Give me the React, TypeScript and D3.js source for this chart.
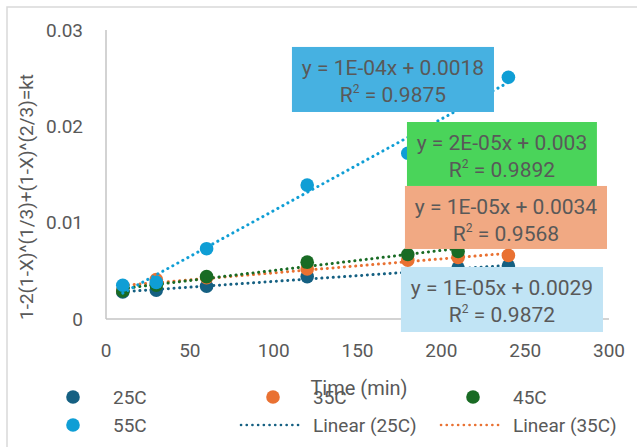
import React from 'react';
import * as d3 from 'd3';

// sampling times (min)
const times = [10, 30, 60, 120, 180, 210, 240];

// kinetic values per temperature
const series25 = [0.0028, 0.003, 0.0034, 0.0044, 0.0047, 0.0053, 0.0055];
const series35 = [0.003, 0.0041, 0.0043, 0.0052, 0.0061, 0.0064, 0.0066];
const series45 = [0.0029, 0.0035, 0.0044, 0.0059, 0.0067, 0.007, 0.008];
const series55 = [0.0035, 0.0038, 0.0073, 0.0139, 0.0172, 0.0222, 0.0251];

const seriesNames = ['25C', '35C', '45C', '55C'];
const seriesColors = ['#156082', '#e97132', '#196b24', '#0f9ed5'];

const xTicks = [0, 50, 100, 150, 200, 250, 300];
const yTicks = [0, 0.01, 0.02, 0.03];

// trendline labels (as printed on the chart)
const eqLines = ['y = 1E-05x + 0.0029', 'y = 1E-05x + 0.0034', 'y = 2E-05x + 0.003', 'y = 1E-04x + 0.0018'];
const r2Values = ['0.9872', '0.9568', '0.9892', '0.9875'];
const labelFills = ['#c1e4f5', '#f1a983', '#4ad45a', '#46b1e1'];
// label box corners in data units [x0, y0, x1, y1]
const labelBoxes = [
  [175.9, -0.00135, 296.4, 0.0054],
  [178.3, 0.00727, 298.8, 0.01381],
  [179.5, 0.01381, 292.8, 0.02045],
  [110.9, 0.02149, 231.4, 0.02824],
];

const legendItems = ['25C', '35C', '45C', '55C', 'Linear (25C)', 'Linear (35C)'];

const W = 637;
const H = 447;
const font = 'Roboto, "Open Sans", sans-serif';
const textColor = '#595959';

function fitLine(xs: number[], ys: number[]) {
  const mx = d3.mean(xs)!;
  const my = d3.mean(ys)!;
  const sxy = d3.sum(xs, (x, i) => (x - mx) * (ys[i] - my));
  const sxx = d3.sum(xs, (x) => (x - mx) * (x - mx));
  const slope = sxy / sxx;
  return { slope, intercept: my - slope * mx };
}

export default function App() {
  const x = d3.scaleLinear().domain([0, 300]).range([106, 609]);
  const y = d3.scaleLinear().domain([0, 0.03]).range([319, 30]);
  const allSeries = [series25, series35, series45, series55];

  const line = d3
    .line<[number, number]>()
    .x((d) => x(d[0]))
    .y((d) => y(d[1]));

  // least-squares trendline over the sampled range
  const trend = allSeries.map((s) => {
    const { slope, intercept } = fitLine(times, s);
    const ends = d3.extent(times) as [number, number];
    return ends.map((t) => [t, slope * t + intercept] as [number, number]);
  });

  const dotted = { strokeDasharray: '0.1 5.6', strokeLinecap: 'round' as const, strokeWidth: 3 };

  const legendCols = [73, 273, 473];
  const legendRows = [397, 425];

  return (
    <svg width={W} height={H} style={{ position: 'absolute', left: 0, top: 0, background: '#fff' }}>
      <rect x={7} y={7} width={W + 10} height={H + 10} fill="#fff" stroke="#d9d9d9" strokeWidth={1.5} />

      {/* axes */}
      <line x1={x(0)} x2={x(0)} y1={y(0.03)} y2={y(0)} stroke="#c4c4c4" strokeWidth={1.5} />
      <line x1={x(0)} x2={x(300)} y1={y(0)} y2={y(0)} stroke="#c4c4c4" strokeWidth={1.5} />

      {yTicks.map((t) => (
        <text key={t} x={83} y={y(t)} dy="0.35em" textAnchor="end" fontFamily={font} fontSize={19} fill={textColor}>
          {t === 0 ? '0' : d3.format('.2f')(t)}
        </text>
      ))}
      {xTicks.map((t) => (
        <text key={t} x={x(t)} y={357} textAnchor="middle" fontFamily={font} fontSize={19} fill={textColor}>
          {t}
        </text>
      ))}

      <text
        transform={`translate(33,${197}) rotate(-90)`}
        textAnchor="middle"
        fontFamily={font}
        fontSize={19}
        fill={textColor}
      >
        1-2(1-X)^(1/3)+(1-X)^(2/3)=kt
      </text>

      {/* series */}
      {allSeries.map((s, k) => (
        <g key={seriesNames[k]}>
          {s.map((v, i) => (
            <circle key={i} cx={x(times[i])} cy={y(v)} r={6.8} fill={seriesColors[k]} />
          ))}
          <path d={line(trend[k]) ?? ''} fill="none" stroke={seriesColors[k]} {...dotted} />
        </g>
      ))}

      {/* trendline labels */}
      {labelBoxes.map((b, k) => {
        const x0 = x(b[0]);
        const x1 = x(b[2]);
        const top = y(b[3]);
        const bottom = y(b[1]);
        const cx = (x0 + x1) / 2;
        return (
          <g key={k}>
            <rect x={x0} y={top} width={x1 - x0} height={bottom - top} fill={labelFills[k]} />
            <text x={cx} y={top + 28} textAnchor="middle" fontFamily={font} fontSize={21} fill={textColor}>
              {eqLines[k]}
            </text>
            <text x={cx} y={top + 55} textAnchor="middle" fontFamily={font} fontSize={21} fill={textColor}>
              R<tspan fontSize={12} dy={-9}>2</tspan>
              <tspan dy={9}> = {r2Values[k]}</tspan>
            </text>
          </g>
        );
      })}

      {/* x axis title */}
      <text x={359} y={395} textAnchor="middle" fontFamily={font} fontSize={20} fill={textColor}>
        Time (min)
      </text>

      {/* legend */}
      {legendItems.map((name, i) => {
        const col = i % 3;
        const row = Math.floor(i / 3);
        const cx = legendCols[col];
        const cy = legendRows[row];
        const isLine = i >= 4;
        const color = isLine ? seriesColors[i - 4] : seriesColors[i];
        return (
          <g key={name}>
            {isLine ? (
              <line x1={cx - 32} x2={cx + 30} y1={cy} y2={cy} stroke={color} {...dotted} strokeWidth={2.6} />
            ) : (
              <circle cx={cx} cy={cy} r={6.8} fill={color} />
            )}
            <text x={cx + 40} y={cy} dy="0.35em" fontFamily={font} fontSize={19} fill={textColor}>
              {name}
            </text>
          </g>
        );
      })}
    </svg>
  );
}
